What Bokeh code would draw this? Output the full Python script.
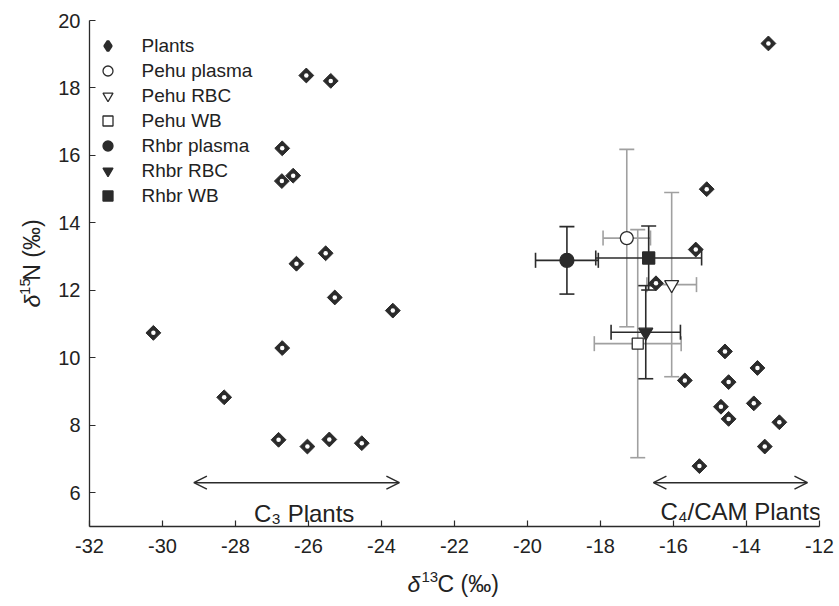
import math
from bokeh.plotting import figure
from bokeh.layouts import row, column
from bokeh.models import (ColumnDataSource, Range1d, FixedTicker, Whisker, TeeHead,
                          Arrow, OpenHead, Label, Legend, LegendItem)
from bokeh.embed import file_html
from bokeh.resources import INLINE

# ---------------- data ----------------
plant_d13c = [-26.06, -25.39, -26.72, -26.73, -26.42, -26.33, -25.53, -25.28, -23.69, -30.25,
              -26.72, -28.31, -26.82, -26.03, -25.43, -24.54, -13.40, -15.09, -15.39, -16.48,
              -14.59, -13.70, -15.69, -14.49, -14.70, -13.80, -14.49, -13.10, -13.50, -15.29]
plant_d15n = [18.37, 18.21, 16.21, 15.24, 15.40, 12.79, 13.10, 11.79, 11.40, 10.74,
              10.29, 8.83, 7.57, 7.37, 7.58, 7.47, 19.32, 15.00, 13.21, 12.21,
              10.19, 9.70, 9.33, 9.28, 8.55, 8.65, 8.19, 8.09, 7.37, 6.79]

groups = ["Pehu plasma", "Pehu RBC", "Pehu WB", "Rhbr plasma", "Rhbr RBC", "Rhbr WB"]
mean_d13c = [-17.28, -16.05, -16.98, -18.92, -16.76, -16.68]
mean_d15n = [13.55, 12.17, 10.42, 12.89, 10.76, 12.96]
sd_d13c = [0.65, 0.68, 1.19, 0.86, 0.95, 1.45]
sd_d15n = [2.63, 2.73, 3.38, 1.00, 1.38, 0.95]

x_ticks = [-32, -30, -28, -26, -24, -22, -20, -18, -16, -14, -12]
x_tick_labels = ["-32", "-30", "-28", "-26", "-24", "-22", "-20", "-18", "-16", "-14", "-12"]
y_ticks = [6, 8, 10, 12, 14, 16, 18, 20]
y_tick_labels = ["6", "8", "10", "12", "14", "16", "18", "20"]

c3_span = (-29.14, -23.51)
c4_span = (-16.55, -12.33)
arrow_y = 6.30

DARK = "#2b2b2b"
GRAY = "#a0a0a0"
TXT = "#222222"
FONT = "'Liberation Sans', Arial, sans-serif"

YW = 50          # width of the y-title strip
XH = 40          # height of the x-title strip
MW, MH = 839 - YW, 606 - XH

# ---------------- main figure ----------------
p = figure(width=MW, height=MH, output_backend="svg", toolbar_location=None,
           x_range=Range1d(-32, -12), y_range=Range1d(5, 20),
           min_border_left=89 - YW, min_border_right=20, min_border_top=20,
           min_border_bottom=MH - 526)
p.outline_line_color = None
p.grid.grid_line_color = None

for ax in (p.xaxis[0], p.yaxis[0]):
    ax.axis_line_color = DARK
    ax.axis_line_width = 1.3
    ax.major_tick_line_color = DARK
    ax.major_tick_line_width = 1.2
    ax.major_tick_in = 6
    ax.major_tick_out = 0
    ax.minor_tick_line_color = None
    ax.major_label_text_font = FONT
    ax.major_label_text_font_size = "20px"
    ax.major_label_text_color = TXT
p.xaxis.ticker = FixedTicker(ticks=x_ticks)
p.yaxis.ticker = FixedTicker(ticks=y_ticks)
p.xaxis.major_label_overrides = {t: s for t, s in zip(x_ticks, x_tick_labels)}
p.yaxis.major_label_overrides = {t: s for t, s in zip(y_ticks, y_tick_labels)}
p.xaxis.major_label_standoff = 12
p.yaxis.major_label_standoff = 9

# ---------------- plants ----------------
psrc = ColumnDataSource(dict(x=plant_d13c, y=plant_d15n))
p.scatter("x", "y", source=psrc, marker="square", size=10.5, angle=math.pi / 4,
          fill_color=DARK, line_color=DARK, line_width=1)
# same points as a (hidden-inside) diamond: used as the legend key
r_pl_key = p.scatter("x", "y", source=psrc, marker="diamond", size=10, fill_color=DARK,
                     line_color=DARK, line_width=2.8)
p.scatter("x", "y", source=psrc, marker="circle", size=4.5,
          fill_color="white", line_color=None)

# ---------------- error bars ----------------
def bars(idx, color):
    src = ColumnDataSource(dict(
        x=[mean_d13c[i] for i in idx], y=[mean_d15n[i] for i in idx],
        xl=[mean_d13c[i] - sd_d13c[i] for i in idx], xu=[mean_d13c[i] + sd_d13c[i] for i in idx],
        yl=[mean_d15n[i] - sd_d15n[i] for i in idx], yu=[mean_d15n[i] + sd_d15n[i] for i in idx]))
    for dim, base, lo, hi in (("height", "x", "yl", "yu"), ("width", "y", "xl", "xu")):
        w = Whisker(source=src, base=base, lower=lo, upper=hi, dimension=dim,
                    line_color=color, line_width=1.6, level="underlay",
                    lower_head=TeeHead(size=15, line_color=color, line_width=1.6),
                    upper_head=TeeHead(size=15, line_color=color, line_width=1.6))
        p.add_layout(w)

bars([0, 1, 2], GRAY)
bars([3, 4, 5], DARK)

styles = [
    dict(marker="circle", size=13, fill_color="white"),
    dict(marker="inverted_triangle", size=14, fill_color="white"),
    dict(marker="square", size=11, fill_color="white"),
    dict(marker="circle", size=14, fill_color=DARK),
    dict(marker="inverted_triangle", size=14, fill_color=DARK),
    dict(marker="square", size=12, fill_color=DARK),
]
mean_renderers = []
for i, st in enumerate(styles):
    r = p.scatter(x=[mean_d13c[i]], y=[mean_d15n[i]], line_color=DARK, line_width=1.3, **st)
    mean_renderers.append(r)

# ---------------- legend ----------------
items = [LegendItem(label="Plants", renderers=[r_pl_key])]
for g, r in zip(groups, mean_renderers):
    items.append(LegendItem(label=g, renderers=[r]))
legend = Legend(items=items, location=(5.5, 317.8), glyph_width=25, glyph_height=25,
                label_height=25, spacing=0, padding=0, margin=0, label_standoff=22,
                label_text_font=FONT, label_text_font_size="19px", label_text_color=TXT,
                border_line_color=None, background_fill_alpha=0)
p.add_layout(legend)

# ---------------- annotations ----------------
for span in (c3_span, c4_span):
    p.add_layout(Arrow(x_start=span[0], x_end=span[1], y_start=arrow_y, y_end=arrow_y,
                       line_color=DARK, line_width=1.5,
                       start=OpenHead(size=13, line_color=DARK, line_width=1.5),
                       end=OpenHead(size=13, line_color=DARK, line_width=1.5)))

p.add_layout(Label(x=-26.12, y=5.40, text="C\u2083 Plants",
                   text_align="center", text_baseline="middle", text_font=FONT,
                   text_font_size="24px", text_color=TXT))
p.add_layout(Label(x=-14.16, y=5.45, text="C\u2084/CAM Plants",
                   text_align="center", text_baseline="middle", text_font=FONT,
                   text_font_size="24px", text_color=TXT))

# ---------------- axis-title strips ----------------
def strip(w, h):
    f = figure(width=w, height=h, output_backend="svg", toolbar_location=None,
               x_range=Range1d(0, w), y_range=Range1d(0, h),
               x_axis_location=None, y_axis_location=None, min_border=0)
    f.outline_line_color = None
    f.grid.grid_line_color = None
    return f

# x title: page centre y ~583
xf = strip(839, XH)
xc = 606 - 583
xf.add_layout(Label(x=407, y=xc, text="\u03b4", text_font=FONT, text_font_style="italic",
                    text_font_size="23px", text_baseline="middle", text_color=TXT))
xf.add_layout(Label(x=421, y=xc + 7, text="13", text_font=FONT, text_font_size="15px",
                    text_baseline="middle", text_color=TXT))
xf.add_layout(Label(x=437, y=xc, text="C (\u2030)", text_font=FONT, text_font_size="23px",
                    text_baseline="middle", text_color=TXT))

# y title (rotated): page centre x ~31
yf = strip(YW, MH)
yc = 31
yf.add_layout(Label(x=yc, y=MH - 321, text="\u03b4", angle=math.pi / 2, text_font=FONT,
                    text_font_style="italic", text_font_size="23px",
                    text_baseline="middle", text_color=TXT))
yf.add_layout(Label(x=yc - 7, y=MH - 307, text="15", angle=math.pi / 2, text_font=FONT,
                    text_font_size="15px", text_baseline="middle", text_color=TXT))
yf.add_layout(Label(x=yc, y=MH - 291, text="N (\u2030)", angle=math.pi / 2, text_font=FONT,
                    text_font_size="23px", text_baseline="middle", text_color=TXT))

layout = column(row(yf, p), xf)
open("out.html", "w").write(file_html(layout, INLINE))
